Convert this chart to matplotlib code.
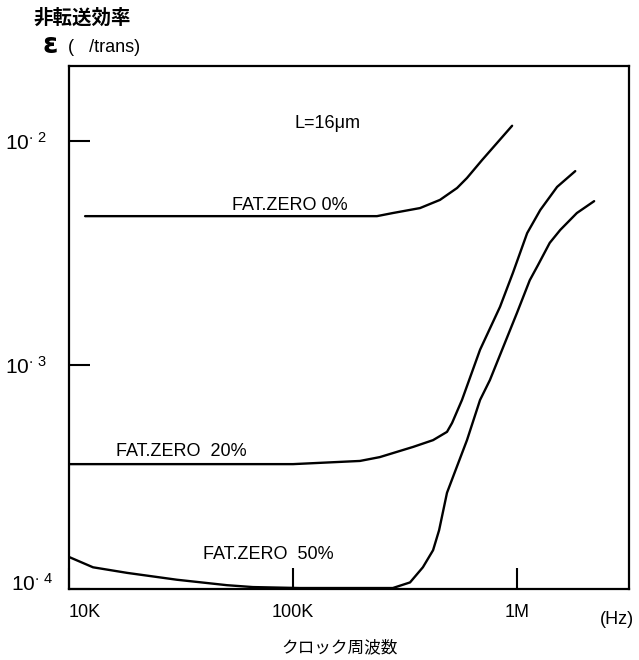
import matplotlib
matplotlib.use("Agg")
import matplotlib.pyplot as plt
import matplotlib.transforms as mtransforms

plt.rcParams['font.family'] = ['Liberation Sans', 'Noto Sans CJK JP', 'DejaVu Sans']
plt.rcParams['mathtext.fontset'] = 'custom'
plt.rcParams['mathtext.rm'] = 'Liberation Sans'

# clock frequency (Hz) and transfer inefficiency (/trans)
fz0_x = [11.8e3, 38.5e3, 120e3, 237e3, 279e3, 369e3, 453e3, 540e3, 598e3, 698e3, 951e3]
fz0_y = [4.62e-3, 4.62e-3, 4.62e-3, 4.62e-3, 4.77e-3, 5.02e-3, 5.46e-3, 6.17e-3, 6.84e-3, 8.22e-3, 1.17e-2]

fz20_x = [1e4, 1e5, 199e3, 244e3, 344e3, 422e3, 487e3, 513e3, 568e3, 684e3, 840e3,
          959e3, 1.11e6, 1.27e6, 1.51e6, 1.82e6]
fz20_y = [3.61e-4, 3.61e-4, 3.73e-4, 3.88e-4, 4.31e-4, 4.62e-4, 5.03e-4, 5.51e-4, 6.98e-4, 1.17e-3, 1.82e-3,
          2.58e-3, 3.88e-3, 4.92e-3, 6.24e-3, 7.34e-3]

fz50_x = [1e4, 12.8e3, 18.2e3, 30.3e3, 50.7e3, 66.2e3, 107e3, 279e3, 333e3, 380e3, 422e3, 449e3,
          487e3, 528e3, 598e3, 684e3, 757e3, 1.0e6, 1.14e6, 1.24e6, 1.40e6, 1.56e6, 1.85e6, 2.21e6]
fz50_y = [1.39e-4, 1.25e-4, 1.18e-4, 1.10e-4, 1.04e-4, 1.02e-4, 1.01e-4, 1.01e-4, 1.07e-4, 1.25e-4, 1.49e-4, 1.83e-4,
          2.69e-4, 3.33e-4, 4.62e-4, 6.98e-4, 8.57e-4, 1.71e-3, 2.39e-3, 2.79e-3, 3.51e-3, 4.01e-3, 4.77e-3, 5.39e-3]

xticks = [1e4, 1e5, 1e6]
xticklabels = ['10K', '100K', '1M']
yticks = [1e-4, 1e-3, 1e-2]
yticklabels = [r'$\mathregular{10^{\cdot\ 4}}$', r'$\mathregular{10^{\cdot\ 3}}$', r'$\mathregular{10^{\cdot\ 2}}$']

W, H = 639, 660
fig = plt.figure(figsize=(W / 100, H / 100), dpi=100)
ax = fig.add_axes([69 / W, 1 - 589 / H, (629 - 69) / W, (589 - 66) / H])

for xs, ys in [(fz0_x, fz0_y), (fz20_x, fz20_y), (fz50_x, fz50_y)]:
    ax.plot(xs, ys, color='black', lw=1.7, solid_capstyle='round', solid_joinstyle='round')

ax.set_xscale('log')
ax.set_yscale('log')
ax.set_xlim(1e4, 10 ** 6.5)
ax.set_ylim(1e-4, 10 ** -1.665)
ax.minorticks_off()
ax.set_xticks(xticks)
ax.set_xticklabels(xticklabels)
ax.set_yticks(yticks)
ax.set_yticklabels(yticklabels)
ax.tick_params(axis='both', direction='in', length=15, width=1.5)
ax.tick_params(axis='x', pad=11, labelsize=13)
ax.tick_params(axis='y', pad=16, labelsize=15)
for s in ax.spines.values():
    s.set_linewidth(1.6)

# nudge first x label to the right, last y label up, as in the original
lab0 = ax.get_xticklabels()[0]
lab0.set_transform(lab0.get_transform() + mtransforms.ScaledTranslation(16 / 100, 0, fig.dpi_scale_trans))
ylab0 = ax.get_yticklabels()[0]
ylab0.set_transform(ylab0.get_transform() + mtransforms.ScaledTranslation(6 / 100, 7 / 100, fig.dpi_scale_trans))

ax.text(142e3, 0.012, 'L=16\u03bcm', fontsize=13, ha='center', va='center')
ax.text(97e3, 5.18e-3, 'FAT.ZERO 0%', fontsize=13, ha='center', va='center')
ax.text(31.6e3, 4.09e-4, 'FAT.ZERO  20%', fontsize=13, ha='center', va='center')
ax.text(77.3e3, 1.42e-4, 'FAT.ZERO  50%', fontsize=13, ha='center', va='center')

fig.text(33 / W, 1 - 18 / H, '非転送効率', fontsize=14, fontweight='bold',
         family=['Noto Sans CJK JP'], ha='left', va='center')
fig.text(42 / W, 1 - 45 / H, '\u03b5', fontsize=20, fontweight='bold',
         family=['DejaVu Sans'], ha='left', va='center')
fig.text(68 / W, 1 - 47 / H, '(   /trans)', fontsize=13, ha='left', va='center')
fig.text(600 / W, 1 - 620 / H, '(Hz)', fontsize=13, ha='left', va='center')
fig.text(340 / W, 1 - 648 / H, 'クロック周波数', fontsize=12,
         family=['Noto Sans CJK JP'], ha='center', va='center')

fig.savefig('out.png', dpi=100)
